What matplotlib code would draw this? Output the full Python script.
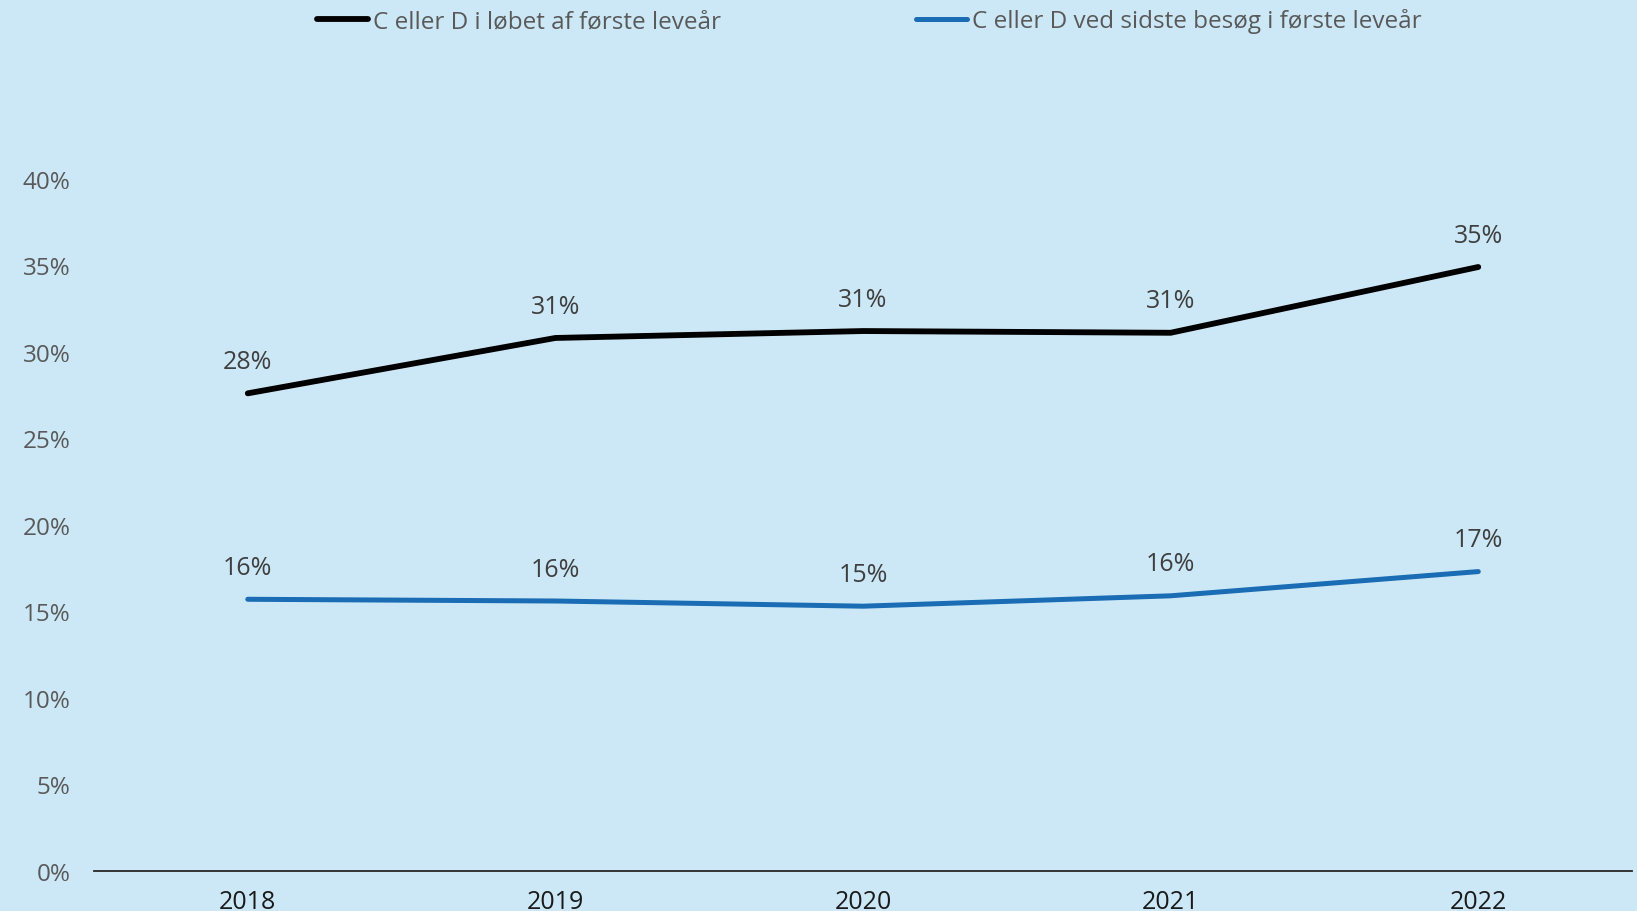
import matplotlib
matplotlib.use("Agg")
import matplotlib.pyplot as plt

# data
years = ["2018", "2019", "2020", "2021", "2022"]
in_first_year = [27.6, 30.8, 31.2, 31.1, 34.9]
last_visit = [15.7, 15.6, 15.3, 15.9, 17.3]
y_ticks = [0, 5, 10, 15, 20, 25, 30, 35, 40]

bg = "#CCE8F6"
blue = "#1A6CB4"

plt.rcParams['font.family'] = ['Open Sans', 'DejaVu Sans']

fig = plt.figure(figsize=(16.37, 9.12), dpi=100, facecolor=bg)
ax = fig.add_axes([0.0574, 0.0439, 0.9396, 0.759])
ax.set_facecolor(bg)

x = list(range(len(years)))
l1, = ax.plot(x, in_first_year, color="black", lw=4.2, solid_capstyle="round",
              solid_joinstyle="round", label="C eller D i løbet af første leveår")
l2, = ax.plot(x, last_visit, color=blue, lw=3.6, solid_capstyle="round",
              solid_joinstyle="round", label="C eller D ved sidste besøg i første leveår")

for xi, v in zip(x, in_first_year):
    ax.annotate(f"{round(v)}%", (xi, v), xytext=(0, 23), textcoords="offset points",
                ha="center", va="center", fontsize=18, color="#3F3F3F")
for xi, v in zip(x, last_visit):
    ax.annotate(f"{round(v)}%", (xi, v), xytext=(0, 23), textcoords="offset points",
                ha="center", va="center", fontsize=18, color="#3F3F3F")

ax.set_xlim(-0.5, 4.5)
ax.set_ylim(0, 40)
ax.set_xticks(x)
ax.set_xticklabels(years)
ax.set_yticks(y_ticks)
ax.set_yticklabels([f"{t}%" for t in y_ticks])
ax.tick_params(axis="y", length=0, pad=17, labelsize=17.5, labelcolor="#595959")
ax.tick_params(axis="x", length=0, pad=13, labelsize=18, labelcolor="#1A1A1A")

for s in ["top", "right", "left"]:
    ax.spines[s].set_visible(False)
ax.spines["bottom"].set_color("#262626")
ax.spines["bottom"].set_linewidth(1.3)

leg = fig.legend(handles=[l1, l2], loc="upper center", bbox_to_anchor=(0.531, 1.014),
                 ncol=2, frameon=False, fontsize=17.5, handlelength=2.1,
                 handletextpad=0.2, columnspacing=8.0, labelcolor="#595959")

fig.savefig("out.png", dpi=100, facecolor=bg)
